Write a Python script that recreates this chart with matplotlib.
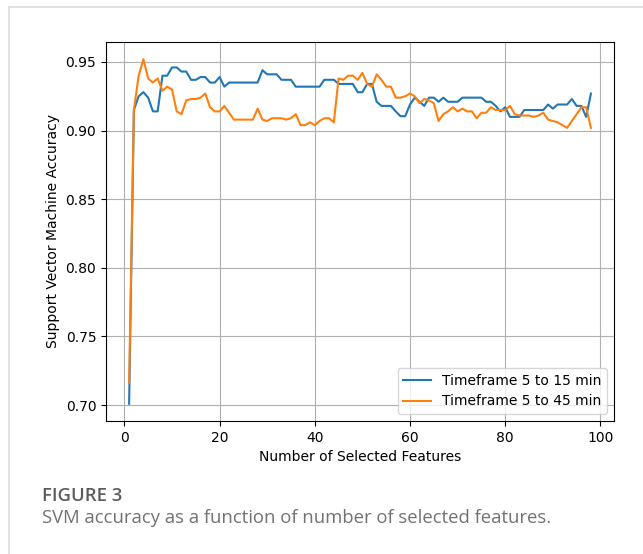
import matplotlib
matplotlib.use("Agg")
import matplotlib.pyplot as plt
from matplotlib.lines import Line2D

# number of selected features
n_feat = list(range(1, 99))

# SVM accuracy, timeframe 5 to 15 min
acc_15 = [0.701, 0.915, 0.925, 0.928, 0.924, 0.914, 0.914, 0.940, 0.940, 0.946,
          0.946, 0.943, 0.943, 0.937, 0.937, 0.939, 0.939, 0.935, 0.935, 0.939,
          0.932, 0.935, 0.935, 0.935, 0.935, 0.935, 0.935, 0.935, 0.944, 0.941,
          0.941, 0.941, 0.937, 0.937, 0.937, 0.932, 0.932, 0.932, 0.932, 0.932,
          0.932, 0.937, 0.937, 0.937, 0.934, 0.934, 0.934, 0.934, 0.928, 0.928,
          0.934, 0.934, 0.921, 0.918, 0.918, 0.918, 0.914, 0.9105, 0.9105, 0.919,
          0.924, 0.921, 0.918, 0.924, 0.924, 0.921, 0.924, 0.921, 0.921, 0.921,
          0.924, 0.924, 0.924, 0.924, 0.924, 0.921, 0.921, 0.918, 0.914, 0.917,
          0.910, 0.910, 0.910, 0.915, 0.915, 0.915, 0.915, 0.915, 0.919, 0.916,
          0.919, 0.919, 0.919, 0.923, 0.918, 0.918, 0.910, 0.927]

# SVM accuracy, timeframe 5 to 45 min
acc_45 = [0.716, 0.915, 0.940, 0.952, 0.938, 0.935, 0.938, 0.929, 0.932, 0.930,
          0.914, 0.912, 0.922, 0.923, 0.923, 0.924, 0.927, 0.917, 0.914, 0.914,
          0.918, 0.913, 0.908, 0.908, 0.908, 0.908, 0.908, 0.916, 0.908, 0.907,
          0.909, 0.909, 0.909, 0.908, 0.909, 0.912, 0.904, 0.904, 0.906, 0.904,
          0.907, 0.909, 0.909, 0.906, 0.938, 0.937, 0.940, 0.940, 0.937, 0.942,
          0.934, 0.932, 0.941, 0.937, 0.932, 0.932, 0.924, 0.924, 0.925, 0.927,
          0.925, 0.920, 0.923, 0.922, 0.920, 0.907, 0.912, 0.914, 0.917, 0.914,
          0.916, 0.914, 0.914, 0.909, 0.913, 0.913, 0.917, 0.915, 0.915, 0.915,
          0.918, 0.912, 0.911, 0.911, 0.911, 0.910, 0.911, 0.913, 0.908, 0.907,
          0.906, 0.904, 0.902, 0.907, 0.912, 0.917, 0.917, 0.902]

fig = plt.figure(figsize=(6.43, 5.54), dpi=100)
ax = fig.add_axes([0.1649, 0.2401, 0.790, 0.6841])

ax.plot(n_feat, acc_15, label="Timeframe 5 to 15 min")
ax.plot(n_feat, acc_45, label="Timeframe 5 to 45 min")
ax.set_xlabel("Number of Selected Features")
ax.set_ylabel("Support Vector Machine Accuracy")
ax.legend(loc="lower right")
ax.grid()

# light frame around the figure, like the journal page
fig.add_artist(Line2D([9 / 643, 1.0], [1 - 7 / 554, 1 - 7 / 554], color="#dcdcdc", lw=1.2))
fig.add_artist(Line2D([9 / 643, 9 / 643], [0.0, 1 - 7 / 554], color="#dcdcdc", lw=1.2))

fig.text(42 / 643, 1 - 501 / 554, "FIGURE 3", family="Open Sans", weight="semibold",
         fontsize=13.3, color="#5c5c5c", va="baseline")
fig.text(42 / 643, 1 - 523 / 554, "SVM accuracy as a function of number of selected features.",
         family="Open Sans", fontsize=13.3, color="#727272", va="baseline")

fig.savefig("out.png", dpi=100)
